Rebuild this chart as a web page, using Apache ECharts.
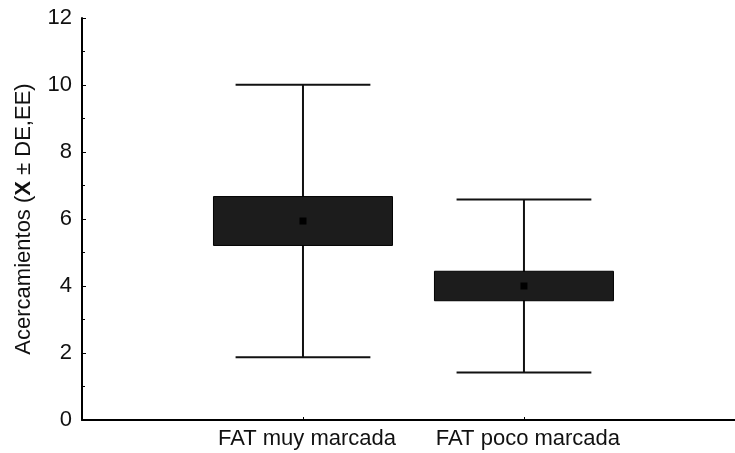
<!DOCTYPE html>
<html>
<head>
<meta charset="utf-8">
<script src="https://cdn.jsdelivr.net/npm/echarts@6/dist/echarts.min.js"></script>
<style>
  html, body { margin: 0; padding: 0; background: #fff; }
  #chart { width: 735px; height: 453px; }
</style>
</head>
<body>
<div id="chart"></div>
<script>
// categorías y posiciones en el eje x
const categories = ["FAT muy marcada", "FAT poco marcada"];
const categoryPos = [1, 2];
// media, error estándar (caja) y desviación estándar (bigotes)
const means = [5.94, 4.0];
const stdErr = [0.73, 0.44];
const stdDev = [4.07, 2.58];

const BOX_COLOR = "#1c1c1c";
const LINE_COLOR = "#111";
const FONT = "Liberation Sans, Arial, sans-serif";

const chart = echarts.init(document.getElementById("chart"));

const seriesData = categories.map((c, i) => [categoryPos[i], means[i], stdErr[i], stdDev[i]]);

function renderItem(params, api) {
  const x = api.value(0);
  const m = api.value(1);
  const e = api.value(2);
  const d = api.value(3);
  const boxW = api.size([0.81, 0])[0];
  const capW = api.size([0.61, 0])[0];
  const top = api.coord([x, m + d]);
  const bot = api.coord([x, m - d]);
  const boxTop = api.coord([x, m + e]);
  const boxBot = api.coord([x, m - e]);
  const mid = api.coord([x, m]);
  const lineStyle = { stroke: LINE_COLOR, lineWidth: 2 };
  return {
    type: "group",
    children: [
      { type: "line", shape: { x1: top[0], y1: top[1], x2: bot[0], y2: bot[1] }, style: lineStyle },
      { type: "line", shape: { x1: top[0] - capW / 2, y1: top[1], x2: top[0] + capW / 2, y2: top[1] }, style: lineStyle },
      { type: "line", shape: { x1: bot[0] - capW / 2, y1: bot[1], x2: bot[0] + capW / 2, y2: bot[1] }, style: lineStyle },
      {
        type: "rect",
        shape: { x: boxTop[0] - boxW / 2, y: boxTop[1], width: boxW, height: boxBot[1] - boxTop[1] },
        style: { fill: BOX_COLOR, stroke: "#000", lineWidth: 1 },
      },
      { type: "rect", shape: { x: mid[0] - 3.5, y: mid[1] - 3.5, width: 7, height: 7 }, style: { fill: "#000" } },
    ],
  };
}

const option = {
  animation: false,
  backgroundColor: "#fff",
  grid: { left: 82, right: 0, top: 18, bottom: 33, containLabel: false },
  xAxis: {
    type: "value",
    min: 0,
    max: 2.955,
    interval: 1,
    splitLine: { show: false },
    axisLine: { show: true, lineStyle: { color: "#000", width: 2 } },
    axisTick: { show: true, inside: true, length: 3, lineStyle: { color: "#000", width: 1 } },
    axisLabel: {
      color: "#111",
      fontFamily: FONT,
      fontSize: 22,
      margin: 8,
      padding: [0, 0, 0, 8],
      showMinLabel: false,
      showMaxLabel: false,
      formatter: (v) => {
        const i = categoryPos.indexOf(v);
        return i >= 0 ? categories[i] : "";
      },
    },
  },
  yAxis: {
    type: "value",
    min: 0,
    max: 12,
    interval: 2,
    name: "{n|Acercamientos (}{b|X}{n| ± DE,EE)}",
    nameLocation: "middle",
    nameGap: 47,
    nameTextStyle: {
      rich: {
        n: { fontFamily: FONT, fontSize: 22, color: "#111" },
        b: { fontFamily: FONT, fontSize: 22, fontWeight: "bold", color: "#111" },
      },
    },
    splitLine: { show: false },
    axisLine: { show: true, lineStyle: { color: "#000", width: 2 } },
    axisTick: { show: true, inside: true, length: 4, lineStyle: { color: "#000", width: 1 } },
    minorTick: { show: true, splitNumber: 2, length: 3, lineStyle: { color: "#000", width: 1 } },
    axisLabel: {
      color: "#111",
      fontFamily: FONT,
      fontSize: 22,
      margin: 10,
    },
  },
  series: [
    {
      type: "custom",
      renderItem: renderItem,
      data: seriesData,
      encode: { x: 0, y: [1] },
      clip: false,
    },
  ],
};

chart.setOption(option);
</script>
</body>
</html>
